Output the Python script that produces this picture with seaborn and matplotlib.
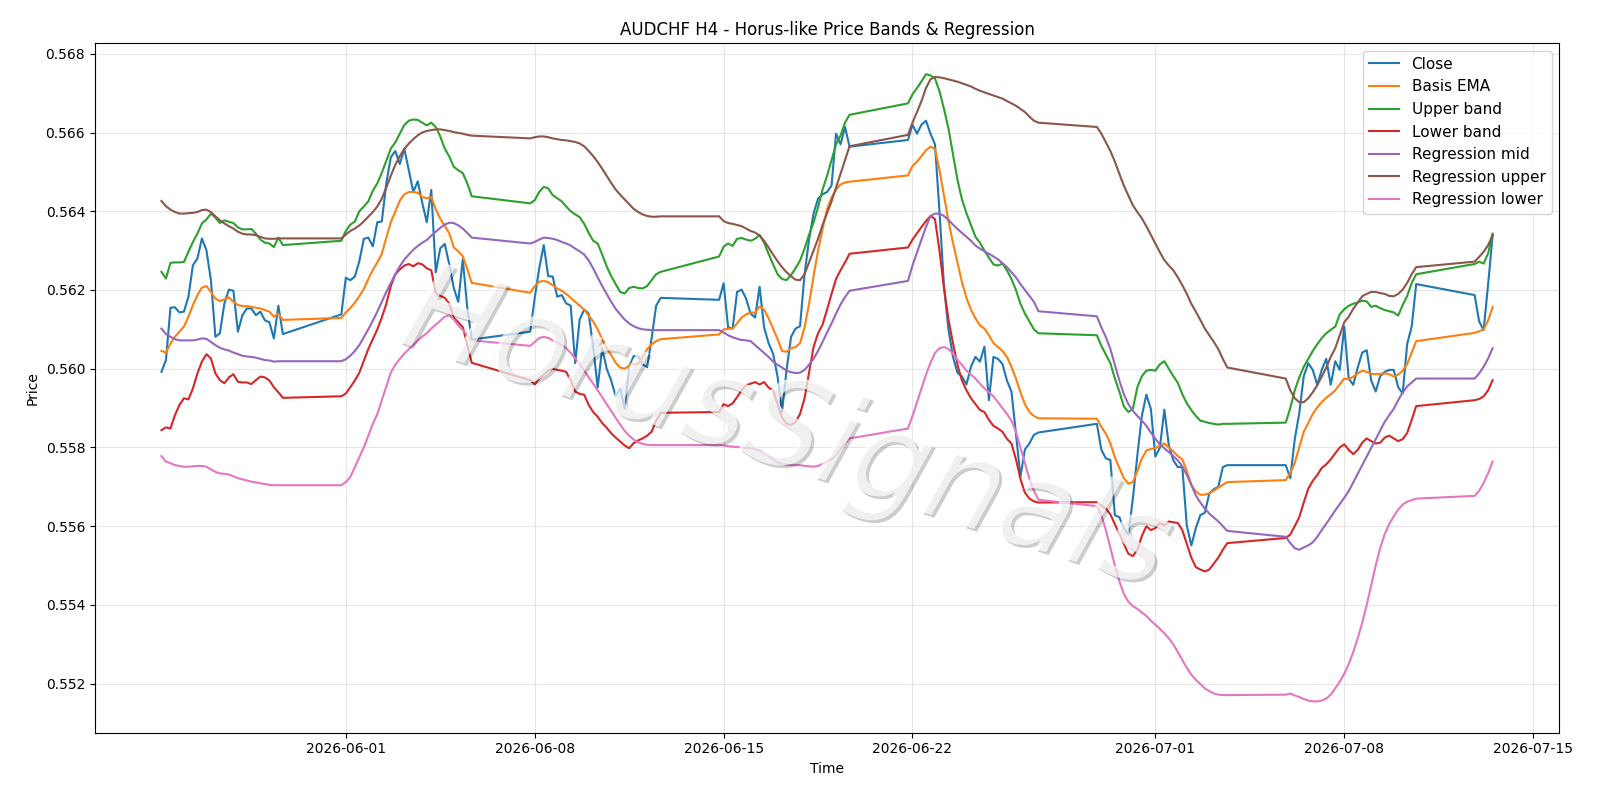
import pandas as pd
import matplotlib
matplotlib.use("Agg")
import matplotlib.pyplot as plt
import matplotlib.patheffects as pe
import seaborn as sns

# ---------------- data ----------------
# H4 bars, FX session: Sunday 20:00 ... Friday 16:00
def session_bars(start, end):
    rng = pd.date_range(start, end, freq="4h")
    keep = [(t.weekday() < 4) or (t.weekday() == 4 and t.hour <= 16)
            or (t.weekday() == 6 and t.hour >= 20) for t in rng]
    return rng[keep]

times = session_bars("2026-05-25 04:00", "2026-07-13 12:00")

close = [
    0.55992, 0.56022, 0.56155, 0.56156, 0.56143, 0.56145, 0.56183, 0.56263, 0.56280, 0.56331, 0.56301, 0.56225, 0.56081, 0.56090, 0.56166, 0.56201, 0.56198, 0.56094, 0.56136, 0.56153, 0.56153, 0.56136, 0.56145, 0.56123, 0.56118, 0.56077, 0.56160, 0.56088,
    0.56138, 0.56231, 0.56225, 0.56234, 0.56273, 0.56330, 0.56333, 0.56311, 0.56372, 0.56374, 0.56471, 0.56537, 0.56553, 0.56520, 0.56559, 0.56504, 0.56449, 0.56476, 0.56421, 0.56372, 0.56454, 0.56245, 0.56306, 0.56317, 0.56265, 0.56205, 0.56170, 0.56278, 0.56155, 0.56074,
    0.56094, 0.56180, 0.56255, 0.56314, 0.56235, 0.56234, 0.56183, 0.56187, 0.56166, 0.56160, 0.56014, 0.56125, 0.56150, 0.56140, 0.56055, 0.55952, 0.56052, 0.56000, 0.55970, 0.55930, 0.55950, 0.55899, 0.56005, 0.56032, 0.56031, 0.56011, 0.56004, 0.56078, 0.56160, 0.56180,
    0.56175, 0.56217, 0.56105, 0.56102, 0.56195, 0.56201, 0.56178, 0.56140, 0.56130, 0.56208, 0.56105, 0.56065, 0.56038, 0.55980, 0.55891, 0.55997, 0.56081, 0.56102, 0.56108, 0.56240, 0.56328, 0.56394, 0.56432, 0.56443, 0.56449, 0.56465, 0.56597, 0.56570, 0.56614, 0.56564,
    0.56581, 0.56620, 0.56597, 0.56620, 0.56630, 0.56597, 0.56570, 0.56400, 0.56210, 0.56100, 0.56030, 0.55990, 0.55980, 0.55960, 0.56005, 0.56030, 0.56018, 0.56056, 0.55920, 0.56030, 0.56025, 0.56012, 0.55970, 0.55942, 0.55836, 0.55726, 0.55795, 0.55810, 0.55832, 0.55838,
    0.55860, 0.55794, 0.55772, 0.55768, 0.55628, 0.55623, 0.55595, 0.55579, 0.55670, 0.55780, 0.55880, 0.55934, 0.55898, 0.55777, 0.55799, 0.55896, 0.55805, 0.55767, 0.55750, 0.55750, 0.55601, 0.55551, 0.55595, 0.55628, 0.55634, 0.55683, 0.55694, 0.55700, 0.55750, 0.55755,
    0.55755, 0.55722, 0.55821, 0.55887, 0.55981, 0.56014, 0.55997, 0.55959, 0.55997, 0.56025, 0.55959, 0.56019, 0.55997, 0.56107, 0.55975, 0.55959, 0.56003, 0.56041, 0.56047, 0.55970, 0.55942, 0.55981, 0.55992, 0.55997, 0.55997, 0.55953, 0.55937, 0.56063, 0.56107, 0.56215,
    0.56187, 0.56120, 0.56098, 0.56215, 0.56339,
]

basis_ema = [
    0.56045, 0.56041, 0.56064, 0.56081, 0.56094, 0.56107, 0.56132, 0.56162, 0.56187, 0.56206, 0.56210, 0.56195, 0.56178, 0.56172, 0.56176, 0.56181, 0.56170, 0.56162, 0.56159, 0.56159, 0.56157, 0.56155, 0.56153, 0.56149, 0.56145, 0.56132, 0.56140, 0.56124,
    0.56129, 0.56143, 0.56154, 0.56168, 0.56184, 0.56203, 0.56228, 0.56251, 0.56270, 0.56292, 0.56333, 0.56372, 0.56399, 0.56427, 0.56443, 0.56449, 0.56449, 0.56447, 0.56436, 0.56433, 0.56436, 0.56405, 0.56381, 0.56363, 0.56344, 0.56308, 0.56298, 0.56286, 0.56253, 0.56218,
    0.56193, 0.56210, 0.56221, 0.56223, 0.56220, 0.56212, 0.56204, 0.56198, 0.56190, 0.56180, 0.56170, 0.56160, 0.56150, 0.56135, 0.56120, 0.56100, 0.56075, 0.56052, 0.56035, 0.56015, 0.56003, 0.56000, 0.56008, 0.56012, 0.56012, 0.56030, 0.56050, 0.56062, 0.56070, 0.56075,
    0.56087, 0.56100, 0.56101, 0.56102, 0.56115, 0.56130, 0.56138, 0.56143, 0.56142, 0.56158, 0.56150, 0.56128, 0.56102, 0.56075, 0.56045, 0.56043, 0.56052, 0.56055, 0.56065, 0.56105, 0.56165, 0.56235, 0.56300, 0.56355, 0.56405, 0.56435, 0.56455, 0.56468, 0.56473, 0.56475,
    0.56491, 0.56515, 0.56526, 0.56540, 0.56555, 0.56564, 0.56558, 0.56505, 0.56440, 0.56375, 0.56320, 0.56270, 0.56220, 0.56180, 0.56150, 0.56128, 0.56110, 0.56102, 0.56085, 0.56065, 0.56055, 0.56045, 0.56030, 0.56005, 0.55975, 0.55940, 0.55910, 0.55890, 0.55880, 0.55874,
    0.55873, 0.55852, 0.55835, 0.55810, 0.55775, 0.55748, 0.55722, 0.55708, 0.55712, 0.55740, 0.55772, 0.55792, 0.55796, 0.55798, 0.55805, 0.55810, 0.55800, 0.55790, 0.55778, 0.55770, 0.55740, 0.55705, 0.55688, 0.55680, 0.55680, 0.55684, 0.55690, 0.55698, 0.55705, 0.55712,
    0.55717, 0.55735, 0.55761, 0.55800, 0.55840, 0.55862, 0.55885, 0.55902, 0.55915, 0.55926, 0.55935, 0.55945, 0.55960, 0.55975, 0.55973, 0.55980, 0.55988, 0.55995, 0.55992, 0.55987, 0.55986, 0.55987, 0.55988, 0.55986, 0.55980, 0.55985, 0.55995, 0.56012, 0.56041, 0.56070,
    0.56091, 0.56095, 0.56100, 0.56123, 0.56157,
]

upper_band = [
    0.56246, 0.56229, 0.56269, 0.56270, 0.56270, 0.56271, 0.56297, 0.56322, 0.56343, 0.56369, 0.56379, 0.56394, 0.56384, 0.56370, 0.56377, 0.56373, 0.56370, 0.56359, 0.56354, 0.56354, 0.56355, 0.56343, 0.56328, 0.56320, 0.56318, 0.56309, 0.56333, 0.56314,
    0.56325, 0.56350, 0.56366, 0.56374, 0.56400, 0.56412, 0.56425, 0.56452, 0.56471, 0.56498, 0.56528, 0.56559, 0.56575, 0.56597, 0.56619, 0.56630, 0.56633, 0.56632, 0.56625, 0.56618, 0.56625, 0.56614, 0.56590, 0.56559, 0.56539, 0.56513, 0.56504, 0.56497, 0.56471, 0.56438,
    0.56420, 0.56428, 0.56449, 0.56462, 0.56458, 0.56441, 0.56433, 0.56425, 0.56412, 0.56400, 0.56392, 0.56385, 0.56368, 0.56345, 0.56325, 0.56318, 0.56290, 0.56260, 0.56235, 0.56215, 0.56195, 0.56191, 0.56205, 0.56208, 0.56205, 0.56204, 0.56210, 0.56225, 0.56240, 0.56246,
    0.56285, 0.56310, 0.56318, 0.56312, 0.56330, 0.56332, 0.56328, 0.56325, 0.56330, 0.56340, 0.56320, 0.56292, 0.56265, 0.56240, 0.56228, 0.56225, 0.56238, 0.56255, 0.56275, 0.56305, 0.56340, 0.56372, 0.56410, 0.56455, 0.56490, 0.56530, 0.56570, 0.56592, 0.56625, 0.56645,
    0.56674, 0.56697, 0.56713, 0.56730, 0.56748, 0.56745, 0.56737, 0.56705, 0.56660, 0.56610, 0.56545, 0.56480, 0.56430, 0.56395, 0.56365, 0.56335, 0.56320, 0.56300, 0.56282, 0.56265, 0.56262, 0.56267, 0.56250, 0.56228, 0.56200, 0.56165, 0.56140, 0.56120, 0.56100, 0.56090,
    0.56085, 0.56058, 0.56036, 0.56014, 0.55975, 0.55942, 0.55904, 0.55890, 0.55898, 0.55953, 0.55981, 0.55995, 0.55997, 0.55995, 0.56011, 0.56019, 0.56000, 0.55981, 0.55964, 0.55935, 0.55912, 0.55895, 0.55880, 0.55868, 0.55865, 0.55862, 0.55860, 0.55858, 0.55860, 0.55860,
    0.55863, 0.55900, 0.55945, 0.55978, 0.56005, 0.56025, 0.56045, 0.56062, 0.56078, 0.56090, 0.56099, 0.56107, 0.56138, 0.56151, 0.56160, 0.56165, 0.56168, 0.56173, 0.56171, 0.56157, 0.56160, 0.56154, 0.56149, 0.56146, 0.56143, 0.56135, 0.56162, 0.56185, 0.56218, 0.56240,
    0.56266, 0.56272, 0.56267, 0.56293, 0.56343,
]

lower_band = [
    0.55844, 0.55851, 0.55848, 0.55882, 0.55908, 0.55925, 0.55922, 0.55950, 0.55988, 0.56018, 0.56037, 0.56026, 0.55988, 0.55971, 0.55963, 0.55978, 0.55986, 0.55967, 0.55965, 0.55965, 0.55961, 0.55971, 0.55980, 0.55978, 0.55970, 0.55953, 0.55940, 0.55926,
    0.55930, 0.55937, 0.55953, 0.55970, 0.55990, 0.56020, 0.56050, 0.56075, 0.56100, 0.56130, 0.56165, 0.56210, 0.56240, 0.56252, 0.56262, 0.56266, 0.56260, 0.56268, 0.56265, 0.56255, 0.56250, 0.56192, 0.56185, 0.56180, 0.56165, 0.56130, 0.56118, 0.56106, 0.56060, 0.56015,
    0.55971, 0.55960, 0.55975, 0.55985, 0.55995, 0.56000, 0.55997, 0.55995, 0.55992, 0.55970, 0.55942, 0.55936, 0.55934, 0.55908, 0.55890, 0.55878, 0.55862, 0.55850, 0.55836, 0.55825, 0.55815, 0.55805, 0.55798, 0.55811, 0.55818, 0.55823, 0.55830, 0.55840, 0.55868, 0.55888,
    0.55890, 0.55910, 0.55905, 0.55912, 0.55928, 0.55945, 0.55958, 0.55962, 0.55966, 0.55960, 0.55966, 0.55952, 0.55945, 0.55910, 0.55875, 0.55860, 0.55857, 0.55865, 0.55885, 0.55925, 0.55990, 0.56055, 0.56090, 0.56112, 0.56150, 0.56190, 0.56228, 0.56250, 0.56270, 0.56292,
    0.56308, 0.56328, 0.56344, 0.56360, 0.56375, 0.56388, 0.56380, 0.56300, 0.56205, 0.56125, 0.56065, 0.56010, 0.55970, 0.55945, 0.55925, 0.55910, 0.55895, 0.55890, 0.55870, 0.55855, 0.55848, 0.55840, 0.55822, 0.55810, 0.55770, 0.55720, 0.55685, 0.55670, 0.55663, 0.55660,
    0.55661, 0.55652, 0.55645, 0.55630, 0.55605, 0.55580, 0.55555, 0.55530, 0.55524, 0.55540, 0.55575, 0.55600, 0.55590, 0.55595, 0.55608, 0.55602, 0.55612, 0.55610, 0.55608, 0.55590, 0.55555, 0.55520, 0.55496, 0.55490, 0.55485, 0.55490, 0.55505, 0.55520, 0.55540, 0.55557,
    0.55570, 0.55579, 0.55600, 0.55623, 0.55660, 0.55695, 0.55715, 0.55730, 0.55748, 0.55757, 0.55770, 0.55785, 0.55800, 0.55808, 0.55794, 0.55783, 0.55794, 0.55812, 0.55823, 0.55816, 0.55810, 0.55812, 0.55825, 0.55830, 0.55823, 0.55816, 0.55821, 0.55837, 0.55870, 0.55905,
    0.55920, 0.55923, 0.55930, 0.55945, 0.55971,
]

reg_mid = [
    0.56102, 0.56088, 0.56081, 0.56075, 0.56072, 0.56072, 0.56072, 0.56072, 0.56074, 0.56077, 0.56076, 0.56068, 0.56060, 0.56053, 0.56049, 0.56046, 0.56041, 0.56037, 0.56033, 0.56031, 0.56030, 0.56028, 0.56025, 0.56022, 0.56021, 0.56018, 0.56019, 0.56019,
    0.56019, 0.56024, 0.56033, 0.56045, 0.56060, 0.56080, 0.56100, 0.56122, 0.56145, 0.56170, 0.56195, 0.56218, 0.56240, 0.56260, 0.56277, 0.56290, 0.56302, 0.56312, 0.56320, 0.56327, 0.56338, 0.56348, 0.56358, 0.56366, 0.56371, 0.56370, 0.56364, 0.56356, 0.56345, 0.56333,
    0.56318, 0.56322, 0.56328, 0.56333, 0.56332, 0.56330, 0.56327, 0.56322, 0.56318, 0.56313, 0.56305, 0.56298, 0.56290, 0.56275, 0.56255, 0.56232, 0.56210, 0.56190, 0.56170, 0.56152, 0.56138, 0.56125, 0.56115, 0.56108, 0.56103, 0.56100, 0.56099, 0.56098, 0.56098, 0.56098,
    0.56098, 0.56092, 0.56085, 0.56080, 0.56076, 0.56073, 0.56072, 0.56070, 0.56060, 0.56050, 0.56040, 0.56030, 0.56018, 0.56010, 0.56003, 0.55995, 0.55991, 0.55989, 0.55990, 0.55997, 0.56010, 0.56025, 0.56045, 0.56068, 0.56092, 0.56115, 0.56140, 0.56163, 0.56182, 0.56198,
    0.56223, 0.56262, 0.56295, 0.56328, 0.56360, 0.56388, 0.56394, 0.56394, 0.56388, 0.56378, 0.56366, 0.56355, 0.56345, 0.56335, 0.56325, 0.56313, 0.56305, 0.56298, 0.56292, 0.56285, 0.56278, 0.56268, 0.56258, 0.56245, 0.56232, 0.56215, 0.56200, 0.56185, 0.56170, 0.56146,
    0.56133, 0.56105, 0.56080, 0.56050, 0.56010, 0.55970, 0.55935, 0.55910, 0.55893, 0.55880, 0.55868, 0.55855, 0.55838, 0.55822, 0.55808, 0.55798, 0.55788, 0.55778, 0.55767, 0.55752, 0.55730, 0.55705, 0.55678, 0.55660, 0.55645, 0.55632, 0.55622, 0.55612, 0.55600, 0.55588,
    0.55573, 0.55557, 0.55544, 0.55540, 0.55546, 0.55551, 0.55559, 0.55573, 0.55590, 0.55606, 0.55623, 0.55640, 0.55656, 0.55672, 0.55689, 0.55711, 0.55733, 0.55755, 0.55777, 0.55799, 0.55821, 0.55843, 0.55865, 0.55882, 0.55898, 0.55920, 0.55940, 0.55955, 0.55965, 0.55975,
    0.55975, 0.55988, 0.56005, 0.56026, 0.56052,
]

reg_upper = [
    0.56426, 0.56413, 0.56404, 0.56398, 0.56394, 0.56394, 0.56395, 0.56396, 0.56398, 0.56403, 0.56404, 0.56398, 0.56387, 0.56377, 0.56369, 0.56362, 0.56356, 0.56348, 0.56343, 0.56341, 0.56341, 0.56339, 0.56335, 0.56331, 0.56330, 0.56330, 0.56331, 0.56331,
    0.56331, 0.56341, 0.56350, 0.56356, 0.56364, 0.56374, 0.56386, 0.56398, 0.56412, 0.56432, 0.56460, 0.56490, 0.56518, 0.56540, 0.56558, 0.56572, 0.56583, 0.56593, 0.56600, 0.56604, 0.56606, 0.56608, 0.56608, 0.56606, 0.56604, 0.56601, 0.56599, 0.56597, 0.56594, 0.56592,
    0.56585, 0.56588, 0.56590, 0.56590, 0.56588, 0.56585, 0.56583, 0.56581, 0.56580, 0.56578, 0.56576, 0.56572, 0.56565, 0.56553, 0.56540, 0.56525, 0.56508, 0.56490, 0.56472, 0.56455, 0.56442, 0.56430, 0.56418, 0.56406, 0.56398, 0.56392, 0.56388, 0.56386, 0.56386, 0.56387,
    0.56387, 0.56375, 0.56370, 0.56368, 0.56365, 0.56362, 0.56356, 0.56350, 0.56346, 0.56338, 0.56325, 0.56308, 0.56290, 0.56273, 0.56258, 0.56245, 0.56235, 0.56226, 0.56225, 0.56240, 0.56270, 0.56300, 0.56330, 0.56365, 0.56395, 0.56425, 0.56460, 0.56495, 0.56530, 0.56565,
    0.56594, 0.56625, 0.56652, 0.56680, 0.56713, 0.56735, 0.56741, 0.56740, 0.56738, 0.56735, 0.56732, 0.56729, 0.56725, 0.56721, 0.56717, 0.56711, 0.56706, 0.56702, 0.56698, 0.56694, 0.56690, 0.56686, 0.56680, 0.56674, 0.56668, 0.56660, 0.56652, 0.56640, 0.56630, 0.56625,
    0.56614, 0.56597, 0.56575, 0.56553, 0.56526, 0.56495, 0.56465, 0.56440, 0.56415, 0.56398, 0.56382, 0.56362, 0.56340, 0.56318, 0.56296, 0.56276, 0.56262, 0.56250, 0.56232, 0.56212, 0.56190, 0.56165, 0.56145, 0.56124, 0.56102, 0.56085, 0.56068, 0.56050, 0.56025, 0.56003,
    0.55975, 0.55945, 0.55925, 0.55915, 0.55915, 0.55925, 0.55940, 0.55958, 0.55980, 0.56003, 0.56030, 0.56052, 0.56085, 0.56118, 0.56132, 0.56152, 0.56168, 0.56184, 0.56190, 0.56195, 0.56195, 0.56192, 0.56190, 0.56185, 0.56184, 0.56190, 0.56201, 0.56218, 0.56240, 0.56258,
    0.56272, 0.56284, 0.56297, 0.56314, 0.56339,
]

reg_lower = [
    0.55778, 0.55764, 0.55760, 0.55755, 0.55753, 0.55751, 0.55751, 0.55752, 0.55753, 0.55753, 0.55751, 0.55744, 0.55738, 0.55734, 0.55733, 0.55731, 0.55727, 0.55722, 0.55719, 0.55716, 0.55713, 0.55711, 0.55709, 0.55707, 0.55705, 0.55704, 0.55704, 0.55704,
    0.55704, 0.55712, 0.55725, 0.55750, 0.55775, 0.55800, 0.55830, 0.55860, 0.55885, 0.55920, 0.55955, 0.55990, 0.56010, 0.56025, 0.56038, 0.56050, 0.56060, 0.56072, 0.56082, 0.56090, 0.56102, 0.56112, 0.56122, 0.56132, 0.56136, 0.56125, 0.56110, 0.56098, 0.56085, 0.56072,
    0.56058, 0.56068, 0.56078, 0.56081, 0.56078, 0.56072, 0.56066, 0.56060, 0.56052, 0.56040, 0.56026, 0.56012, 0.55995, 0.55978, 0.55962, 0.55945, 0.55928, 0.55910, 0.55893, 0.55875, 0.55858, 0.55842, 0.55830, 0.55820, 0.55813, 0.55809, 0.55807, 0.55806, 0.55806, 0.55806,
    0.55806, 0.55805, 0.55803, 0.55802, 0.55801, 0.55800, 0.55799, 0.55798, 0.55796, 0.55792, 0.55785, 0.55778, 0.55770, 0.55762, 0.55758, 0.55756, 0.55755, 0.55755, 0.55755, 0.55753, 0.55752, 0.55751, 0.55753, 0.55758, 0.55764, 0.55770, 0.55780, 0.55795, 0.55810, 0.55823,
    0.55848, 0.55880, 0.55915, 0.55950, 0.55985, 0.56015, 0.56040, 0.56052, 0.56055, 0.56050, 0.56038, 0.56022, 0.56010, 0.55995, 0.55985, 0.55975, 0.55962, 0.55950, 0.55940, 0.55930, 0.55915, 0.55900, 0.55885, 0.55868, 0.55840, 0.55800, 0.55760, 0.55720, 0.55690, 0.55667,
    0.55651, 0.55628, 0.55590, 0.55545, 0.55500, 0.55460, 0.55428, 0.55408, 0.55397, 0.55390, 0.55381, 0.55372, 0.55360, 0.55350, 0.55339, 0.55328, 0.55315, 0.55300, 0.55280, 0.55260, 0.55240, 0.55223, 0.55210, 0.55199, 0.55188, 0.55181, 0.55175, 0.55172, 0.55171, 0.55171,
    0.55172, 0.55175, 0.55170, 0.55166, 0.55161, 0.55157, 0.55155, 0.55155, 0.55157, 0.55162, 0.55172, 0.55188, 0.55205, 0.55225, 0.55250, 0.55280, 0.55315, 0.55355, 0.55400, 0.55450, 0.55500, 0.55545, 0.55580, 0.55605, 0.55625, 0.55642, 0.55655, 0.55662, 0.55666, 0.55670,
    0.55677, 0.55690, 0.55710, 0.55735, 0.55764,
]

series_names = ["Close", "Basis EMA", "Upper band", "Lower band",
                "Regression mid", "Regression upper", "Regression lower"]
series_values = [close, basis_ema, upper_band, lower_band, reg_mid, reg_upper, reg_lower]

for nm, vals in zip(series_names, series_values):
    assert len(vals) == len(times), (nm, len(vals), len(times))

# ---------------- plot ----------------
palette = sns.color_palette("tab10", 7)

fig, ax = plt.subplots(figsize=(16, 8), dpi=100)
fig.subplots_adjust(left=0.0593, right=0.9745, bottom=0.0841, top=0.9464)

for nm, vals, col in zip(series_names, series_values, palette):
    sns.lineplot(x=times, y=vals, ax=ax, label=nm, color=col, linewidth=1.5)

ax.set_title("AUDCHF H4 - Horus-like Price Bands & Regression", fontsize=12)
ax.set_xlabel("Time")
ax.set_ylabel("Price")
ax.grid(True, alpha=0.3)
ax.legend(loc="upper right", fontsize=11)

ax.text(0.472, 0.435, "HorusSignals", transform=ax.transAxes, fontsize=88,
        rotation=-18, ha="center", va="center", color="white", alpha=0.72,
        style="italic", zorder=5,
        path_effects=[pe.withSimplePatchShadow(offset=(2, -2), shadow_rgbFace="black", alpha=0.2)])

fig.savefig("out.png", dpi=100)
